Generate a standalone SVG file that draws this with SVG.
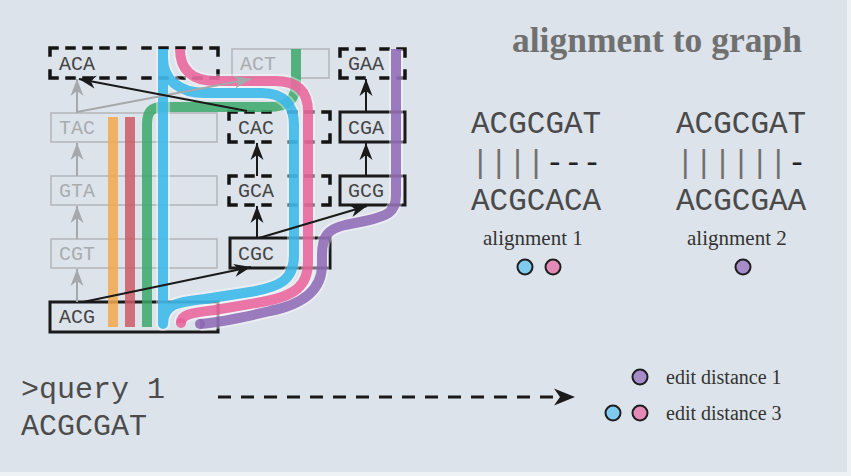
<svg xmlns="http://www.w3.org/2000/svg" width="851" height="476" viewBox="0 0 851 476">
  <defs>
    <style>
      .mono { font-family: "Liberation Mono", "Courier New", monospace; }
      .serif { font-family: "Liberation Serif", "Times New Roman", serif; }
      .node-dash { fill: none; stroke: #141414; stroke-width: 3.5; stroke-dasharray: 7 10; stroke-linecap: square; }
      .node-solid { fill: none; stroke: #1a1a1a; stroke-width: 3; }
      .node-off { fill: none; stroke: #b2b5b8; stroke-width: 1.5; }
      .lbl { font-size: 20px; fill: #454545; }
      .lbl-off { font-size: 20px; fill: #a9adb0; }
      .edge { stroke: #1a1a1a; stroke-width: 2; fill: none; marker-end: url(#ah); }
      .edge-off { stroke: #a6a9ac; stroke-width: 2; fill: none; marker-end: url(#ah-off); }
      .thread { fill: none; stroke-width: 10; opacity: 0.85; stroke-linejoin: round; }
      .halo { fill: none; stroke: #ffffff; stroke-width: 14; opacity: 0.4; stroke-linejoin: round; }
      .aln { font-size: 31px; fill: #4a4a4a; }
      .dot { stroke: #1e1e1e; stroke-width: 2; }
    </style>
    <marker id="ah" markerUnits="userSpaceOnUse" markerWidth="20" markerHeight="16" viewBox="-18 -8 20 16" refX="0" refY="0" orient="auto">
      <path d="M0,0 L-17,-6.5 L-12,0 L-17,6.5 Z" fill="#1a1a1a"/>
    </marker>
    <marker id="ah-off" markerUnits="userSpaceOnUse" markerWidth="20" markerHeight="16" viewBox="-18 -8 20 16" refX="0" refY="0" orient="auto">
      <path d="M0,0 L-17,-6.5 L-12,0 L-17,6.5 Z" fill="#a6a9ac"/>
    </marker>
  </defs>

  <!-- canvas -->
  <rect x="0" y="0" width="851" height="476" fill="#eef2f5"/>
  <rect x="0" y="0" width="847" height="472" fill="#dce3ea"/>

  <!-- de Bruijn graph nodes; dashed outlines are drawn side by side from each corner so every corner gets a dash -->
  <g id="node-ACA"><path class="node-dash" d="M50 48 H134 M218 48 H134 M218 48 V63 M218 78 V63 M218 78 H134 M50 78 H134 M50 78 V63 M50 48 V63"/><text class="mono lbl" x="59" y="70">ACA</text></g>
  <g id="node-ACT"><rect class="node-off" x="232" y="49" width="97" height="29"/><text class="mono lbl-off" x="240" y="70">ACT</text></g>
  <g id="node-GAA"><path class="node-dash" d="M340 49 H372.5 M405 49 H372.5 M405 49 V63.5 M405 78 V63.5 M405 78 H372.5 M340 78 H372.5 M340 78 V63.5 M340 49 V63.5"/><text class="mono lbl" x="348" y="70" fill="#5a5a5a">GAA</text></g>
  <g id="node-TAC"><rect class="node-off" x="51" y="113" width="166" height="29"/><text class="mono lbl-off" x="59" y="134">TAC</text></g>
  <g id="node-CAC"><path class="node-dash" d="M229 112 H279.5 M330 112 H279.5 M330 112 V127 M330 142 V127 M330 142 H279.5 M229 142 H279.5 M229 142 V127 M229 112 V127"/><text class="mono lbl" x="238" y="134">CAC</text></g>
  <g id="node-CGA"><rect class="node-solid" x="340" y="112" width="65" height="30"/><text class="mono lbl" x="348" y="134">CGA</text></g>
  <g id="node-GTA"><rect class="node-off" x="51" y="176" width="166" height="29"/><text class="mono lbl-off" x="59" y="197">GTA</text></g>
  <g id="node-GCA"><path class="node-dash" d="M229 176 H279.5 M330 176 H279.5 M330 176 V190.5 M330 205 V190.5 M330 205 H279.5 M229 205 H279.5 M229 205 V190.5 M229 176 V190.5"/><text class="mono lbl" x="238" y="197">GCA</text></g>
  <g id="node-GCG"><rect class="node-solid" x="340" y="176" width="65" height="29"/><text class="mono lbl" x="348" y="197">GCG</text></g>
  <g id="node-CGT"><rect class="node-off" x="51" y="239" width="166" height="29"/><text class="mono lbl-off" x="59" y="260">CGT</text></g>
  <g id="node-CGC"><rect class="node-solid" x="230" y="238" width="100" height="30"/><text class="mono lbl" x="238" y="260">CGC</text></g>
  <g id="node-ACG"><rect class="node-solid" x="50" y="302" width="168" height="30"/><text class="mono lbl" x="59" y="323">ACG</text></g>

  <!-- read threads through the graph -->
  <g id="threads">
    <path class="thread" stroke="#f2a94e" d="M113 117 V327"/>
    <path class="thread" stroke="#cd5b66" d="M130 117 V327"/>
    <path class="thread" stroke="#3aa86a" d="M296 49 V82 C296 100 288 107 268 107 H162 C151 107 147 113 147 124 V327"/>
    <path class="halo" d="M163 49 V324 C163 305 175 302 205 299 L250 292 C280 287 294 280 294 255 V125 C294 105 284 93 262 93 H205 C180 93 163 80 163 58"/>
    <path class="halo" d="M181 323 C181 314 192 313 215 310 L262 302 C296 296 308 285 308 262 V112 C308 92 298 81 275 81 H215 C192 81 180 70 180 49"/>
    <path class="halo" d="M396 49 V195 C396 212 388 216 365 221 L345 225 C328 229 322 236 322 255 V265 C322 292 300 305 270 311 C245 317 222 322 200 324"/>
    <path class="thread" stroke="#33b5ea" d="M163 49 V324 C163 305 175 302 205 299 L250 292 C280 287 294 280 294 255 V125 C294 105 284 93 262 93 H205 C180 93 163 80 163 58"/>
    <path class="thread" stroke="#ea5f9a" d="M181 323 C181 314 192 313 215 310 L262 302 C296 296 308 285 308 262 V112 C308 92 298 81 275 81 H215 C192 81 180 70 180 49"/>
    <circle cx="181" cy="323" r="5" fill="#ea5f9a" opacity="0.85"/>
    <path class="thread" stroke="#8c66b4" d="M396 49 V195 C396 212 388 216 365 221 L345 225 C328 229 322 236 322 255 V265 C322 292 300 305 270 311 C245 317 222 322 200 324"/>
    <circle cx="200" cy="324" r="5" fill="#8c66b4" opacity="0.85"/>
  </g>

  <!-- graph edges -->
  <g id="edges">
    <path class="edge-off" d="M77 113 V79"/>
    <path class="edge-off" d="M77 176 V143"/>
    <path class="edge-off" d="M77 239 V206"/>
    <path class="edge-off" d="M77 302 V269"/>
    <path class="edge-off" d="M77 112 L251 79"/>
    <path class="edge" d="M247 111 L79 79"/>
    <path class="edge" d="M257 176 V143"/>
    <path class="edge" d="M257 238 V206"/>
    <path class="edge" d="M366 112 V79"/>
    <path class="edge" d="M366 176 V143"/>
    <path class="edge" d="M83 302 L251 267"/>
    <path class="edge" d="M259 238 L367 206"/>
    <path d="M218 397 H556" stroke="#1a1a1a" stroke-width="3" stroke-dasharray="13 10" fill="none"/>
    <path d="M575 397 L554 388.5 L560 397 L554 405.5 Z" fill="#1a1a1a"/>
  </g>

  <!-- title and alignments -->
  <g id="title"><text class="serif" x="512" y="52" font-size="35.5" font-weight="bold" fill="#707070">alignment to graph</text></g>

  <g id="alignment-1">
    <text class="mono aln" x="471" y="133">ACGCGAT</text>
    <text class="mono aln" x="471" y="172"><tspan fill="#707070">||||</tspan><tspan fill="#222">---</tspan></text>
    <text class="mono aln" x="471" y="210">ACGCACA</text>
    <text class="serif" x="483" y="245" font-size="21" fill="#333">alignment 1</text>
    <circle class="dot" cx="525" cy="267" r="7.5" fill="#7fcaee"/>
    <circle class="dot" cx="553" cy="267" r="7.5" fill="#e38ab6"/>
  </g>

  <g id="alignment-2">
    <text class="mono aln" x="676" y="133">ACGCGAT</text>
    <text class="mono aln" x="676" y="172"><tspan fill="#707070">||||||</tspan><tspan fill="#222">-</tspan></text>
    <text class="mono aln" x="676" y="210">ACGCGAA</text>
    <text class="serif" x="687" y="245" font-size="21" fill="#333">alignment 2</text>
    <circle class="dot" cx="743" cy="267" r="7.5" fill="#a68cc9"/>
  </g>

  <!-- query and result -->
  <g id="query">
    <text class="mono" x="21" y="398" font-size="30" fill="#4c4c4c">&gt;query 1</text>
    <text class="mono" x="21" y="435" font-size="30" fill="#4c4c4c">ACGCGAT</text>
  </g>

  <g id="legend">
    <circle class="dot" cx="640" cy="377" r="7.5" fill="#a68cc9"/>
    <text class="serif" x="666" y="384" font-size="20" fill="#333">edit distance 1</text>
    <circle class="dot" cx="613" cy="413" r="7.5" fill="#7fcaee"/>
    <circle class="dot" cx="640" cy="413" r="7.5" fill="#e38ab6"/>
    <text class="serif" x="666" y="420" font-size="20" fill="#333">edit distance 3</text>
  </g>
</svg>
